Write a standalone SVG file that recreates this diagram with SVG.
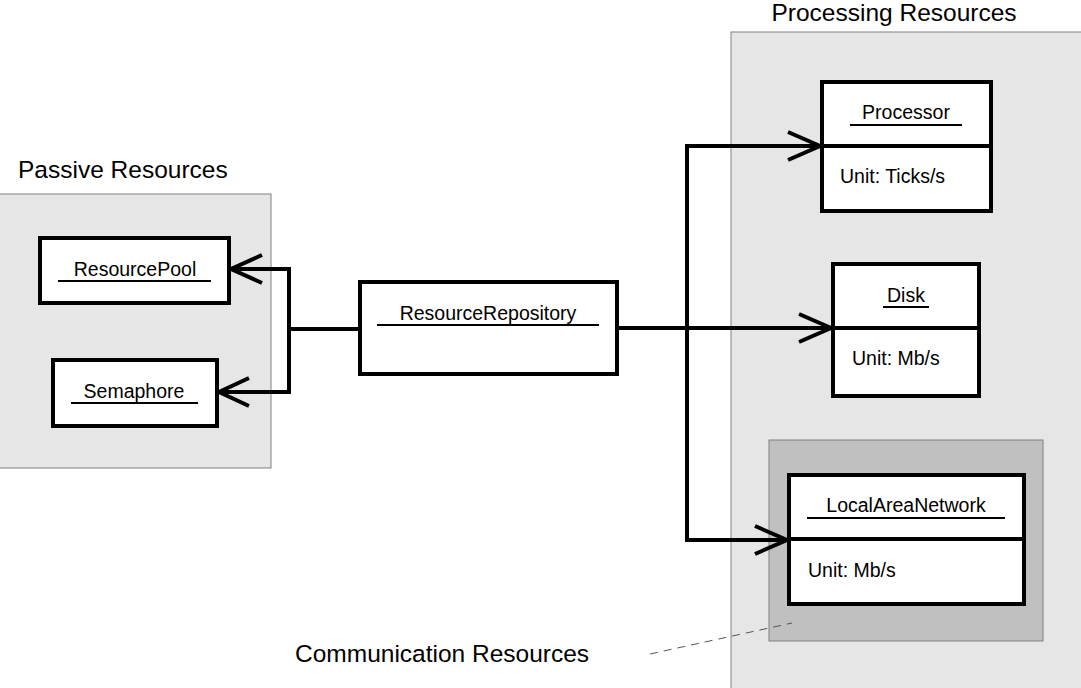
<svg xmlns="http://www.w3.org/2000/svg" width="1081" height="688" viewBox="0 0 1081 688">
<style>
text{font-family:"Liberation Sans",Arial,sans-serif;fill:#000}
.title{font-size:24.5px}
.lbl{font-size:19.5px}
.box{fill:#fff;stroke:#000;stroke-width:4}
.ul{stroke:#000;stroke-width:2}
.div{stroke:#000;stroke-width:4}
.cont{fill:#e6e6e6;stroke:#808080;stroke-width:1}
.cont2{fill:#c0c0c0;stroke:#808080;stroke-width:1}
.conn{fill:none;stroke:#000;stroke-width:4}
.head{fill:none;stroke:#000;stroke-width:4}
</style>
<rect width="1081" height="688" fill="#fff"/>
<g id="passive-resources">
<rect class="cont" x="-1" y="194" width="272" height="274"/>
<text class="title" x="18" y="178">Passive Resources</text>
</g>
<g id="processing-resources">
<rect class="cont" x="731" y="32" width="352" height="658"/>
<text class="title" x="894" y="21" text-anchor="middle" font-size="24">Processing Resources</text>
</g>
<g id="communication-resources">
<rect class="cont2" x="769" y="440" width="274" height="201"/>
<text class="title" x="295" y="662">Communication Resources</text>
<line x1="650" y1="654" x2="792" y2="623" stroke="#555" stroke-width="1" stroke-dasharray="8,6"/>
</g>
<g id="connectors">
<polyline class="conn" points="360,329 289,329"/>
<polyline class="conn" points="231,269 289,269 289,392 219,392"/>
<polyline class="head" points="262,255 231,269 262,283"/>
<polyline class="head" points="249,378 219,392 249,406"/>
<polyline class="conn" points="617,328 831,328"/>
<polyline class="conn" points="820,146 687,146 687,540 787,540"/>
<polyline class="head" points="788,132 820,146 788,160"/>
<polyline class="head" points="799,314 831,328 799,342"/>
<polyline class="head" points="755,526 787,540 755,554"/>
</g>
<g id="ResourcePool">
<rect class="box" x="40" y="238" width="189" height="65"/>
<text class="lbl" x="135" y="276" text-anchor="middle">ResourcePool</text>
<line class="ul" x1="58" y1="281" x2="211" y2="281"/>
</g>
<g id="Semaphore">
<rect class="box" x="53" y="360" width="164" height="66"/>
<text class="lbl" x="134" y="398" text-anchor="middle">Semaphore</text>
<line class="ul" x1="71" y1="403" x2="198" y2="403"/>
</g>
<g id="ResourceRepository">
<rect class="box" x="360" y="282" width="257" height="92"/>
<text class="lbl" x="488" y="320" text-anchor="middle">ResourceRepository</text>
<line class="ul" x1="377" y1="325" x2="599" y2="325"/>
</g>
<g id="Processor">
<rect class="box" x="822" y="82" width="169" height="129"/>
<line class="div" x1="822" y1="146" x2="991" y2="146"/>
<text class="lbl" x="906" y="119" text-anchor="middle">Processor</text>
<line class="ul" x1="850" y1="125" x2="962" y2="125"/>
<text class="lbl" x="840" y="183">Unit: Ticks/s</text>
</g>
<g id="Disk">
<rect class="box" x="833" y="264" width="146" height="132"/>
<line class="div" x1="833" y1="328" x2="979" y2="328"/>
<text class="lbl" x="906" y="302" text-anchor="middle">Disk</text>
<line class="ul" x1="883" y1="307" x2="929" y2="307"/>
<text class="lbl" x="852" y="365">Unit: Mb/s</text>
</g>
<g id="LocalAreaNetwork">
<rect class="box" x="789" y="475" width="235" height="129"/>
<line class="div" x1="789" y1="539" x2="1024" y2="539"/>
<text class="lbl" x="906" y="512" text-anchor="middle">LocalAreaNetwork</text>
<line class="ul" x1="807" y1="518" x2="1005" y2="518"/>
<text class="lbl" x="808" y="577">Unit: Mb/s</text>
</g>
</svg>
